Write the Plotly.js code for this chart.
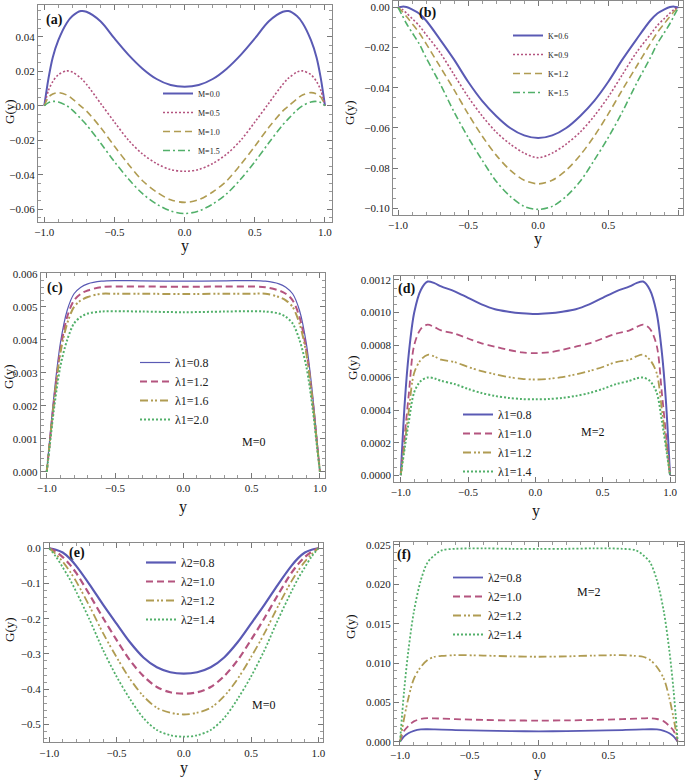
<!DOCTYPE html>
<html><head><meta charset="utf-8">
<script src="https://cdn.plot.ly/plotly-3.0.1.min.js"></script>
<style>html,body{margin:0;padding:0;background:#fff}#c{width:685px;height:783px}</style>
</head><body><div id="c"></div>
<script>
// ---------- data ----------
const XA = [-1,-0.97,-0.94,-0.9,-0.84,-0.8,-0.74,-0.7,-0.6,-0.5,-0.4,-0.3,-0.2,-0.1,0,0.1,0.2,0.3,0.4,0.5,0.6,0.7,0.74,0.8,0.84,0.9,0.94,0.97,1];
const A_M00 = [0,0.016,0.028,0.038,0.048,0.052,0.0549,0.0545,0.049,0.039,0.0295,0.0215,0.0155,0.012,0.011,0.012,0.0155,0.0215,0.0295,0.039,0.049,0.0545,0.0549,0.052,0.048,0.038,0.028,0.016,0];
const A_M05 = [0,0.009,0.014,0.018,0.0202,0.0195,0.016,0.0125,0.0015,-0.0095,-0.020,-0.028,-0.0335,-0.037,-0.038,-0.037,-0.0335,-0.028,-0.020,-0.0095,0.0015,0.0125,0.016,0.0195,0.0202,0.018,0.014,0.009,0];
const A_M10 = [0,0.005,0.0068,0.0076,0.0062,0.004,-0.0002,-0.003,-0.0125,-0.0235,-0.034,-0.0435,-0.050,-0.0545,-0.056,-0.0545,-0.050,-0.0435,-0.034,-0.0235,-0.0125,-0.003,-0.0002,0.004,0.0062,0.0076,0.0068,0.005,0];
const A_M15 = [0,0.0018,0.0025,0.0022,0.0,-0.0025,-0.0075,-0.011,-0.0215,-0.0325,-0.0425,-0.051,-0.057,-0.061,-0.0625,-0.061,-0.057,-0.051,-0.0425,-0.0325,-0.0215,-0.011,-0.0075,-0.0025,0.0,0.0022,0.0025,0.0018,0];
const A_NAMES = ['M=0.0','M=0.5','M=1.0','M=1.5'];

const XB = [-1,-0.97,-0.94,-0.9,-0.85,-0.8,-0.7,-0.6,-0.5,-0.4,-0.3,-0.2,-0.1,0,0.1,0.2,0.3,0.4,0.5,0.6,0.7,0.8,0.85,0.9,0.94,0.97,1];
const B_K06 = [0,0.0004,0.0002,-0.001,-0.003,-0.0065,-0.016,-0.026,-0.037,-0.0465,-0.054,-0.060,-0.0637,-0.065,-0.0637,-0.060,-0.054,-0.0465,-0.037,-0.026,-0.016,-0.0065,-0.003,-0.001,0.0002,0.0004,0];
const B_K09 = [0,-0.001,-0.0028,-0.0055,-0.009,-0.0135,-0.0225,-0.0335,-0.0445,-0.054,-0.062,-0.068,-0.0725,-0.0748,-0.0725,-0.068,-0.062,-0.054,-0.0445,-0.0335,-0.0225,-0.0135,-0.009,-0.0055,-0.0028,-0.001,0];
const B_K12 = [0,-0.002,-0.0045,-0.008,-0.0125,-0.018,-0.0295,-0.041,-0.053,-0.064,-0.0735,-0.081,-0.086,-0.0878,-0.086,-0.081,-0.0735,-0.064,-0.053,-0.041,-0.0295,-0.018,-0.0125,-0.008,-0.0045,-0.002,0];
const B_K15 = [0,-0.004,-0.008,-0.0125,-0.018,-0.025,-0.038,-0.052,-0.0647,-0.076,-0.0865,-0.094,-0.099,-0.1005,-0.099,-0.094,-0.0865,-0.076,-0.0647,-0.052,-0.038,-0.025,-0.018,-0.0125,-0.008,-0.004,0];
const B_NAMES = ['K=0.6','K=0.9','K=1.2','K=1.5'];

const XC = [-1,-0.98,-0.95,-0.9,-0.85,-0.8,-0.75,-0.7,-0.6,-0.5,-0.3,0,0.3,0.5,0.6,0.7,0.75,0.8,0.85,0.9,0.95,0.98,1];
const C_L08 = [0,0.0009,0.0022,0.0039,0.0049,0.0054,0.0056,0.0057,0.00578,0.0058,0.00579,0.00578,0.00579,0.0058,0.00578,0.0057,0.0056,0.0054,0.0049,0.0039,0.0022,0.0009,0];
const C_L12 = [0,0.0008,0.0020,0.0037,0.0047,0.0052,0.0054,0.0055,0.0056,0.00562,0.00562,0.00561,0.00562,0.00562,0.0056,0.0055,0.0054,0.0052,0.0047,0.0037,0.0020,0.0008,0];
const C_L16 = [0,0.0008,0.0020,0.0036,0.0045,0.0050,0.0052,0.0053,0.0054,0.0054,0.0054,0.00539,0.0054,0.0054,0.0054,0.0053,0.0052,0.0050,0.0045,0.0036,0.0020,0.0008,0];
const C_L20 = [0,0.0007,0.0018,0.0032,0.0040,0.0045,0.0047,0.0048,0.00486,0.00487,0.00486,0.00484,0.00486,0.00487,0.00486,0.0048,0.0047,0.0045,0.0040,0.0032,0.0018,0.0007,0];
const C_NAMES = ['λ1=0.8','λ1=1.2','λ1=1.6','λ1=2.0'];

const XD = [-1,-0.97,-0.94,-0.9,-0.85,-0.8,-0.75,-0.7,-0.6,-0.5,-0.4,-0.3,-0.2,-0.1,0,0.1,0.2,0.3,0.4,0.5,0.6,0.7,0.75,0.8,0.85,0.9,0.94,0.97,1];
const D_L08 = [0,0.00045,0.00075,0.00100,0.00114,0.00119,0.00118,0.00116,0.00113,0.00109,0.00105,0.00102,0.001005,0.000995,0.00099,0.000995,0.001005,0.00102,0.00105,0.00109,0.00113,0.00116,0.00118,0.00119,0.00114,0.00100,0.00075,0.00045,0];
const D_L10 = [0,0.00025,0.0005,0.00080,0.00090,0.000925,0.00091,0.00089,0.00087,0.00084,0.00081,0.00079,0.00077,0.000755,0.00075,0.000755,0.00077,0.00079,0.00081,0.00084,0.00087,0.00089,0.00091,0.000925,0.00090,0.00080,0.0005,0.00025,0];
const D_L12 = [0,0.0002,0.0004,0.00063,0.00071,0.00074,0.00073,0.00071,0.000695,0.000665,0.00064,0.00062,0.000603,0.000592,0.000588,0.000592,0.000603,0.00062,0.00064,0.000665,0.000695,0.00071,0.00073,0.00074,0.00071,0.00063,0.0004,0.0002,0];
const D_L14 = [0,0.00017,0.00033,0.00051,0.00058,0.00060,0.000595,0.00058,0.00056,0.00053,0.000505,0.000487,0.000475,0.000468,0.000466,0.000468,0.000475,0.000487,0.000505,0.00053,0.00056,0.00058,0.000595,0.00060,0.00058,0.00051,0.00033,0.00017,0];
const D_NAMES = ['λ1=0.8','λ1=1.0','λ1=1.2','λ1=1.4'];

const XE = [-1,-0.95,-0.9,-0.85,-0.8,-0.7,-0.6,-0.5,-0.4,-0.3,-0.2,-0.1,0,0.1,0.2,0.3,0.4,0.5,0.6,0.7,0.8,0.85,0.9,0.95,1];
const E_L08 = [0,-0.004,-0.012,-0.028,-0.05,-0.103,-0.16,-0.214,-0.267,-0.31,-0.338,-0.352,-0.356,-0.352,-0.338,-0.31,-0.267,-0.214,-0.16,-0.103,-0.05,-0.028,-0.012,-0.004,0];
const E_L10 = [0,-0.010,-0.025,-0.045,-0.07,-0.132,-0.198,-0.26,-0.318,-0.363,-0.394,-0.409,-0.413,-0.409,-0.394,-0.363,-0.318,-0.26,-0.198,-0.132,-0.07,-0.045,-0.025,-0.010,0];
const E_L12 = [0,-0.017,-0.038,-0.064,-0.094,-0.165,-0.241,-0.309,-0.371,-0.42,-0.453,-0.467,-0.472,-0.467,-0.453,-0.42,-0.371,-0.309,-0.241,-0.165,-0.094,-0.064,-0.038,-0.017,0];
const E_L14 = [0,-0.024,-0.054,-0.086,-0.123,-0.203,-0.289,-0.364,-0.428,-0.482,-0.516,-0.531,-0.535,-0.531,-0.516,-0.482,-0.428,-0.364,-0.289,-0.203,-0.123,-0.086,-0.054,-0.024,0];
const E_NAMES = ['λ2=0.8','λ2=1.0','λ2=1.2','λ2=1.4'];

const XF = [-1,-0.97,-0.94,-0.9,-0.85,-0.8,-0.75,-0.7,-0.6,-0.4,-0.2,0,0.2,0.4,0.6,0.7,0.75,0.8,0.85,0.9,0.94,0.97,1];
const F_L08 = [0,0.0007,0.0011,0.0014,0.00158,0.0016,0.00158,0.00155,0.0015,0.00142,0.00136,0.00134,0.00136,0.00142,0.0015,0.00155,0.00158,0.0016,0.00158,0.0014,0.0011,0.0007,0];
const F_L10 = [0,0.0014,0.0020,0.0026,0.0029,0.0030,0.00298,0.00295,0.00288,0.00278,0.00272,0.0027,0.00272,0.00278,0.00288,0.00295,0.00298,0.0030,0.0029,0.0026,0.0020,0.0014,0];
const F_L12 = [0,0.003,0.0055,0.0080,0.0095,0.0104,0.0108,0.0109,0.0110,0.01095,0.01085,0.0108,0.01085,0.01095,0.0110,0.0109,0.0108,0.0104,0.0095,0.0080,0.0055,0.003,0];
const F_L14 = [0,0.0065,0.0115,0.0165,0.0205,0.0228,0.0237,0.0243,0.0245,0.02455,0.0245,0.0245,0.0245,0.02455,0.0245,0.0243,0.0237,0.0228,0.0205,0.0165,0.0115,0.0065,0];
const F_NAMES = ['λ2=0.8','λ2=1.0','λ2=1.2','λ2=1.4'];

// ---------- styles ----------
const FONT = 'Liberation Serif, Times New Roman, serif';
const COL = ['#5a5ab4', '#b4547f', '#b09c52', '#52b06a'];
const DOT = '2px,2px';
const DASH = '7px,4px';
const DASHDOT = '7px,3px,2px,3px';
const DDOT = '8px,3px,2px,2px,2px,3px';

const W = 685, H = 783;
function px(x){ return x / W; }
function py(y){ return 1 - y / H; }

const traces = [];
function addSet(xs, ys, names, dashes, widths, xa, ya, leg) {
  for (let i = 0; i < ys.length; i++) {
    traces.push({type:'scatter', mode:'lines', x: xs, y: ys[i], name: names[i],
      xaxis: xa, yaxis: ya, legend: leg, hoverinfo:'skip',
      line: {color: COL[i], width: widths[i], dash: dashes[i], shape:'spline', smoothing: 0.9}});
  }
}
addSet(XA, [A_M00, A_M05, A_M10, A_M15], A_NAMES, ['solid', DOT, DASH, DASHDOT], [2, 1.6, 1.6, 1.6], 'x', 'y', 'legend');
addSet(XB, [B_K06, B_K09, B_K12, B_K15], B_NAMES, ['solid', DOT, DASH, DASHDOT], [2, 1.6, 1.6, 1.6], 'x2', 'y2', 'legend2');
addSet(XC, [C_L08, C_L12, C_L16, C_L20], C_NAMES, ['solid', DASH, DDOT, DOT], [1.2, 2, 2, 2], 'x3', 'y3', 'legend3');
addSet(XD, [D_L08, D_L10, D_L12, D_L14], D_NAMES, ['solid', DASH, DDOT, DOT], [2, 1.8, 1.8, 2], 'x4', 'y4', 'legend4');
addSet(XE, [E_L08, E_L10, E_L12, E_L14], E_NAMES, ['solid', DASH, DDOT, DOT], [2.2, 2.2, 1.8, 1.8], 'x5', 'y5', 'legend5');
addSet(XF, [F_L08, F_L10, F_L12, F_L14], F_NAMES, ['solid', DASH, DDOT, DOT], [1.8, 1.8, 1.8, 1.8], 'x6', 'y6', 'legend6');

function axis(dom, rng, dtick, fmt, minor, anchor) {
  return {domain: dom, range: rng, anchor: anchor, dtick: dtick, tick0: 0, tickformat: fmt,
    ticks: 'inside', ticklen: 5, tickwidth: 1, tickcolor: '#777', mirror: 'allticks',
    showline: true, linecolor: '#8a8a8a', linewidth: 1, showgrid: false, zeroline: false,
    fixedrange: true, tickfont: {family: FONT, size: 11, color: '#222'},
    minor: {dtick: minor, tick0: 0, ticks: 'inside', ticklen: 3, tickwidth: 1, tickcolor: '#999', showgrid: false}};
}
function leg(xp, yp, size) {
  return {x: px(xp), y: py(yp), xanchor: 'left', yanchor: 'top', bgcolor: 'rgba(0,0,0,0)',
    borderwidth: 0, font: {family: FONT, size: size, color: '#222'}, tracegroupgap: 0, itemwidth: 30};
}

const panels = [
  {xd:[38,332], yd:[5,222], xr:[-1.045,1.05], yr:[-0.0674,0.0584], dt:0.02, fmt:'.2f', mn:0.005},
  {xd:[393,683], yd:[1,215], xr:[-1.036,1.033], yr:[-0.1033,0.0032], dt:0.02, fmt:'.2f', mn:0.005},
  {xd:[40.7,325], yd:[273.3,477.7], xr:[-1.044,1.037], yr:[-0.00018,0.00602], dt:0.001, fmt:'.3f', mn:0.0002},
  {xd:[394.3,675], yd:[275.7,481.7], xr:[-1.048,1.037], yr:[-0.00004,0.001226], dt:0.0002, fmt:'.4f', mn:0.00005},
  {xd:[44,323.3], yd:[543,742.3], xr:[-1.039,1.037], yr:[-0.551,0.015], dt:0.1, fmt:'.1f', mn:0.02},
  {xd:[394,684], yd:[541.7,745], xr:[-1.043,1.045], yr:[-0.0004,0.0254], dt:0.005, fmt:'.3f', mn:0.001}
];

const layout = {width: W, height: H, margin: {l:0, r:0, t:0, b:0}, paper_bgcolor:'#fff', plot_bgcolor:'#fff',
  showlegend: true, font: {family: FONT, color: '#222'}, annotations: []};

panels.forEach((p, i) => {
  const n = i === 0 ? '' : String(i + 1);
  layout['xaxis' + n] = axis([px(p.xd[0]), px(p.xd[1])], p.xr, 0.5, '.1f', 0.1, 'y' + n);
  layout['yaxis' + n] = axis([py(p.yd[1]), py(p.yd[0])], p.yr, p.dt, p.fmt, p.mn, 'x' + n);
});

layout.legend = leg(158, 79, 8);
layout.legend2 = leg(508, 21, 8);
layout.legend3 = leg(135, 348, 12);
layout.legend4 = leg(458, 400, 12);
layout.legend5 = leg(141, 548, 12);
layout.legend6 = leg(448, 563, 12);

function ann(text, x, y, size, extra) {
  layout.annotations.push(Object.assign({text: text, x: px(x), y: py(y), xref:'paper', yref:'paper',
    xanchor:'center', yanchor:'middle', showarrow: false, font: {family: FONT, size: size, color: '#111'}}, extra || {}));
}
// panel labels
ann('<b>(a)</b>', 54, 20, 14);
ann('<b>(b)</b>', 427, 13, 14);
ann('<b>(c)</b>', 55, 288, 14);
ann('<b>(d)</b>', 406, 289, 14);
ann('<b>(e)</b>', 77, 553, 14);
ann('<b>(f)</b>', 404, 555, 14);
// x titles
[[185,246],[538,239],[183,507],[536,511],[184,768],[538,772]].forEach(p => ann('y', p[0], p[1], p[1] > 770 ? 15 : 16));
// y titles
[[9,112],[350,113],[9,377],[352,368],[9,630],[350,627]].forEach(p => ann('G(y)', p[0], p[1], 13, {textangle: -90}));
// M notes
ann('M=0', 253, 442, 12);
ann('M=2', 592, 432, 12);
ann('M=0', 263, 705, 12);
ann('M=2', 588, 592, 12);

Plotly.newPlot('c', traces, layout, {staticPlot: true, displayModeBar: false});
</script>
</body></html>
